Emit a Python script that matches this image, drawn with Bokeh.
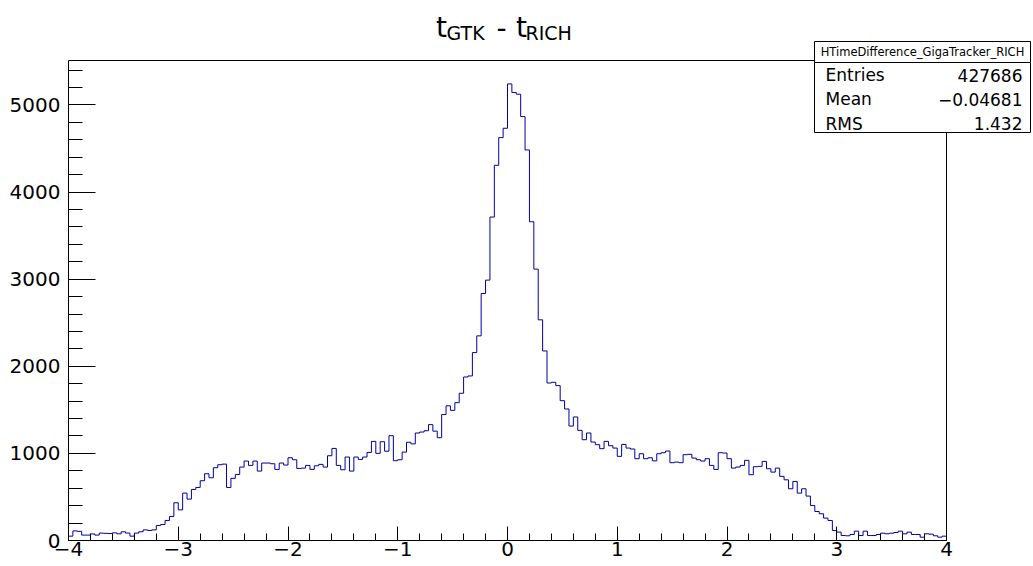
import numpy as np
from bokeh.plotting import figure
from bokeh.models import FixedTicker, Label, BoxAnnotation
from bokeh.embed import file_html
from bokeh.resources import INLINE

# ---------------- data ----------------
x_min, x_max, n_bins = -4.0, 4.0, 200

# bins 0..66  (x = -4.00 .. -1.32)
counts_left = [50, 110, 105, 62, 62, 75, 62, 85, 82, 80,
               88, 77, 100, 85, 50, 85, 100, 122, 115, 122,
               172, 184, 230, 276, 433, 352, 544, 475, 586, 609,
               686, 766, 720, 835, 870, 877, 609, 713, 758, 843,
               912, 862, 912, 797, 889, 889, 881, 816, 889, 866,
               950, 927, 827, 831, 862, 816, 858, 874, 843, 973,
               1057, 862, 812, 958, 797, 958, 931]
# bins 67..134 (x = -1.32 .. 1.40)
counts_core = [958, 1011, 1138, 1000, 1134, 1025, 1203, 916, 927, 1015,
               1128, 1109, 1234, 1245, 1260, 1330, 1255, 1180, 1446, 1546,
               1494, 1582, 1690, 1877, 1889, 2157, 2349, 2835, 2989, 3713,
               4307, 4625, 4732, 5241, 5142, 5123, 4866, 4483, 3659, 3115,
               2533, 2176, 1808, 1816, 1778, 1605, 1510, 1314, 1418, 1264,
               1157, 1234, 1130, 1100, 1054, 1138, 1088, 1061, 966, 1103,
               1061, 1050, 939, 996, 939, 950, 914, 996]
# bins 135..199 (x = 1.40 .. 4.00)
counts_right = [1008, 1027, 893, 900, 893, 985, 989, 946, 927, 912,
                939, 862, 816, 1008, 1004, 939, 831, 843, 862, 920,
                755, 847, 851, 908, 824, 785, 831, 736, 697, 594,
                678, 544, 594, 510, 402, 333, 307, 257, 230, 115,
                96, 57, 54, 69, 107, 57, 107, 57, 57, 69,
                84, 77, 84, 92, 107, 77, 96, 69, 69, 38,
                77, 73, 54, 38, 50]

x_ticks = [-4, -3, -2, -1, 0, 1, 2, 3, 4]
x_tick_labels = ["\u22124", "\u22123", "\u22122", "\u22121", "0", "1", "2", "3", "4"]
y_ticks = [0, 1000, 2000, 3000, 4000, 5000]
y_top = 5510

title_parts = ["t", "GTK", "-", "t", "RICH"]
stats_name = "HTimeDifference_GigaTracker_RICH"
stats_labels = ["Entries", "Mean", "RMS"]
stats_values = ["427686", "\u22120.04681", "1.432"]

# ---------------- layout (pixels) ----------------
W, H = 1033, 566
pad_left, pad_bottom = 68, 26          # ROOT frame: x 68..946, y 60..540
hist_right_px, hist_top_px = 946, 60
frame_w = W - pad_left
frame_h = H - pad_bottom
px_per_x = (hist_right_px - pad_left) / (x_max - x_min)
px_per_y = (H - pad_bottom - hist_top_px) / y_top
x_end = x_min + frame_w / px_per_x
y_end = frame_h / px_per_y

counts = counts_left + counts_core + counts_right
edges = np.linspace(x_min, x_max, n_bins + 1)

FONT = "DejaVu Sans"

p = figure(width=W, height=H, x_range=(x_min, x_end), y_range=(0, y_end),
           output_backend="svg", toolbar_location=None, title=None,
           min_border_left=pad_left, min_border_right=0, min_border_top=0,
           min_border_bottom=pad_bottom)
p.background_fill_color = "white"
p.border_fill_color = "white"
p.outline_line_color = None
p.xgrid.visible = False
p.ygrid.visible = False

p.step(edges, counts + [counts[-1]], mode="after", line_color="#0000a0", line_width=1)

# ROOT frame (top / right sides)
p.add_layout(BoxAnnotation(left=x_min, right=x_max, bottom=0, top=y_top,
                           fill_alpha=0, line_color="black", line_width=1, line_alpha=1.0))

minor_x = [round(v, 2) for v in np.arange(x_min, x_max + 0.001, 0.2)]
p.xaxis.ticker = FixedTicker(ticks=x_ticks, minor_ticks=minor_x)
p.xaxis.major_label_overrides = {t: lab for t, lab in zip(x_ticks, x_tick_labels)}
p.xaxis.bounds = (x_min, x_max)
p.yaxis.ticker = FixedTicker(ticks=y_ticks, minor_ticks=list(range(0, 5600, 200)))
p.yaxis.bounds = (0, y_top)

for ax in (p.xaxis[0], p.yaxis[0]):
    ax.axis_line_color = "black"
    ax.major_tick_line_color = "black"
    ax.minor_tick_line_color = "black"
    ax.major_tick_out = 0
    ax.minor_tick_out = 0
    ax.major_label_text_font = FONT
    ax.major_label_text_font_size = "20px"
    ax.major_label_text_color = "black"

p.xaxis.major_tick_in = 14
p.xaxis.minor_tick_in = 7
p.xaxis.major_label_standoff = 1
p.yaxis.major_tick_in = 27
p.yaxis.minor_tick_in = 14
p.yaxis.major_label_standoff = 8

# ---------------- title (screen units relative to frame) ----------------
title_pos = [(367.6, 513.5, "28px"), (378.0, 507.5, "19px"), (428.0, 513.5, "28px"),
             (447.6, 513.5, "28px"), (457.0, 507.5, "19px")]
for txt, (sx, sy, fs) in zip(title_parts, title_pos):
    p.add_layout(Label(x=sx, y=sy, x_units="screen", y_units="screen", text=txt,
                       text_font=FONT, text_font_size=fs, text_color="black",
                       text_align="left", text_baseline="alphabetic"))

# ---------------- stats box ----------------
for top, bottom in ((499, 478), (478, 408)):
    p.add_layout(BoxAnnotation(left=746, right=962, top=top, bottom=bottom,
                               left_units="screen", right_units="screen",
                               top_units="screen", bottom_units="screen",
                               fill_color="white", fill_alpha=1.0,
                               line_color="black", line_width=1, line_alpha=1.0))
p.add_layout(Label(x=854, y=488.3, x_units="screen", y_units="screen", text=stats_name,
                   text_font=FONT, text_font_size="11.5px", text_color="black",
                   text_align="center", text_baseline="alphabetic"))
row_y = [465.3, 441.3, 417.0]
for lab, val, sy in zip(stats_labels, stats_values, row_y):
    p.add_layout(Label(x=757, y=sy, x_units="screen", y_units="screen", text=lab,
                       text_font=FONT, text_font_size="17px", text_color="black",
                       text_align="left", text_baseline="alphabetic"))
    p.add_layout(Label(x=954, y=sy, x_units="screen", y_units="screen", text=val,
                       text_font=FONT, text_font_size="17px", text_color="black",
                       text_align="right", text_baseline="alphabetic"))

open("out.html", "w").write(file_html(p, INLINE))
